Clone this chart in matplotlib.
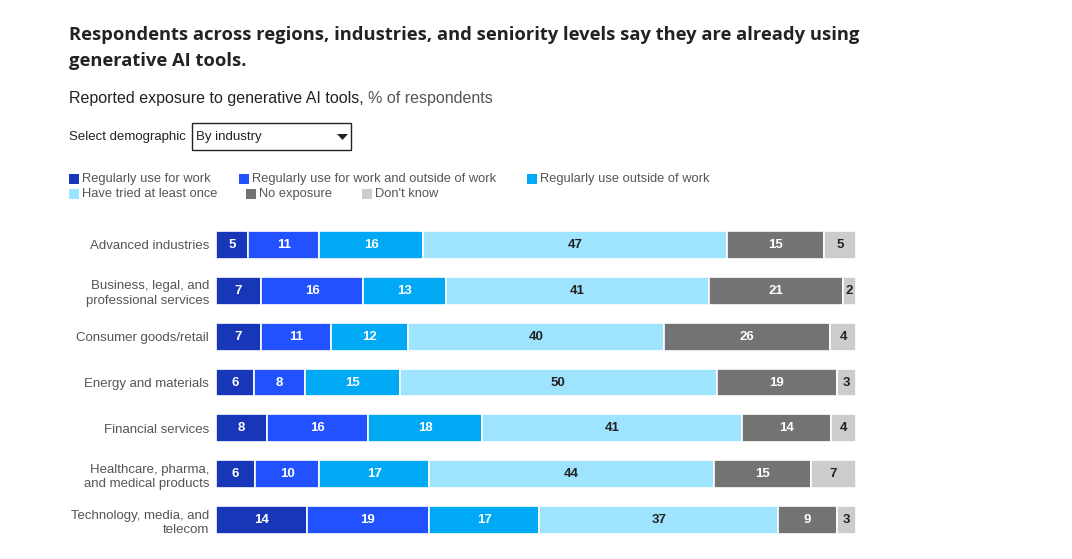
import matplotlib
matplotlib.use("Agg")
import matplotlib.pyplot as plt
from matplotlib.patches import Rectangle, Polygon
import numpy as np

plt.rcParams["font.family"] = ["Liberation Sans", "DejaVu Sans"]

categories = ["Advanced industries", "Business, legal, and\nprofessional services",
              "Consumer goods/retail", "Energy and materials", "Financial services",
              "Healthcare, pharma,\nand medical products", "Technology, media, and\ntelecom"]
series = ["Regularly use for work", "Regularly use for work and outside of work",
          "Regularly use outside of work", "Have tried at least once",
          "No exposure", "Don't know"]
work = [5, 7, 7, 6, 8, 6, 14]
work_outside = [11, 16, 11, 8, 16, 10, 19]
outside = [16, 13, 12, 15, 18, 17, 17]
tried = [47, 41, 40, 50, 41, 44, 37]
no_exposure = [15, 21, 26, 19, 14, 15, 9]
dont_know = [5, 2, 4, 3, 4, 7, 3]

colors = ["#1736b8", "#2251ff", "#00a9f4", "#9fe4ff", "#737373", "#cccccc"]
text_colors = ["white", "white", "white", "#222222", "white", "#222222"]

W, H = 1072, 559
fig = plt.figure(figsize=(W / 100, H / 100), dpi=100)

def fx(px):
    return px / W

def fy(py):
    return 1 - py / H

# title block
title_font = dict(fontsize=13.2, fontweight="bold", color="#222222", va="center",
                  family=["Open Sans", "DejaVu Sans"])
fig.text(fx(69), fy(35), "Respondents across regions, industries, and seniority levels say they are already using", **title_font)
fig.text(fx(69), fy(61), "generative AI tools.", **title_font)

sub = fig.text(fx(69), fy(98), "Reported exposure to generative AI tools,", fontsize=11.5, color="#222222", va="center")
renderer = fig.canvas.get_renderer()
bb = sub.get_window_extent(renderer)
fig.text(bb.x1 / W + fx(4), fy(98), "% of respondents", fontsize=11.5, color="#555555", va="center")

# dropdown
fig.text(fx(69), fy(137), "Select demographic", fontsize=9.5, color="#222222", va="center")
fig.patches.append(Rectangle((fx(192), fy(150)), fx(159), 27 / H, transform=fig.transFigure,
                             facecolor="white", edgecolor="#222222", linewidth=1))
fig.text(fx(196), fy(137), "By industry", fontsize=9.5, color="#222222", va="center")
fig.patches.append(Polygon([(fx(337), fy(134)), (fx(348), fy(134)), (fx(342.5), fy(140))],
                           closed=True, transform=fig.transFigure, facecolor="#222222", edgecolor="none"))

# legend
leg_pos = [(69, 179), (239, 179), (527, 179), (69, 194), (246, 194), (362, 194)]
for (lx, ly), name, c in zip(leg_pos, series, colors):
    fig.patches.append(Rectangle((fx(lx), fy(ly + 5)), fx(10), 10 / H, transform=fig.transFigure,
                                 facecolor=c, edgecolor="none"))
    fig.text(fx(lx + 13), fy(ly), name, fontsize=9.3, color="#555555", va="center")

# bars
ax = fig.add_axes([fx(216), fy(543), fx(640), (543 - 222) / H])
data = np.array([work, work_outside, outside, tried, no_exposure, dont_know], dtype=float)
totals = data.sum(axis=0)
y = np.arange(len(categories))
left = np.zeros(len(categories))
for vals, c, tc in zip(data, colors, text_colors):
    widths = vals / totals * 100
    ax.barh(y, widths, left=left, height=0.61, color=c, edgecolor="white", linewidth=1.2)
    for yi, l, w, v in zip(y, left, widths, vals):
        ax.text(l + w / 2, yi, f"{int(v)}", ha="center", va="center", color=tc,
                fontsize=9.5, fontweight="bold")
    left += widths

ax.set_xlim(0, 100)
ax.set_ylim(len(categories) - 0.5, -0.5)
ax.set_yticks(y)
ax.set_yticklabels(categories, fontsize=9.5, color="#555555", linespacing=1.3)
ax.tick_params(axis="y", length=0, pad=5)
ax.set_xticks([])
for s in ax.spines.values():
    s.set_visible(False)

plt.savefig("out.png", dpi=100)
plt.close()
